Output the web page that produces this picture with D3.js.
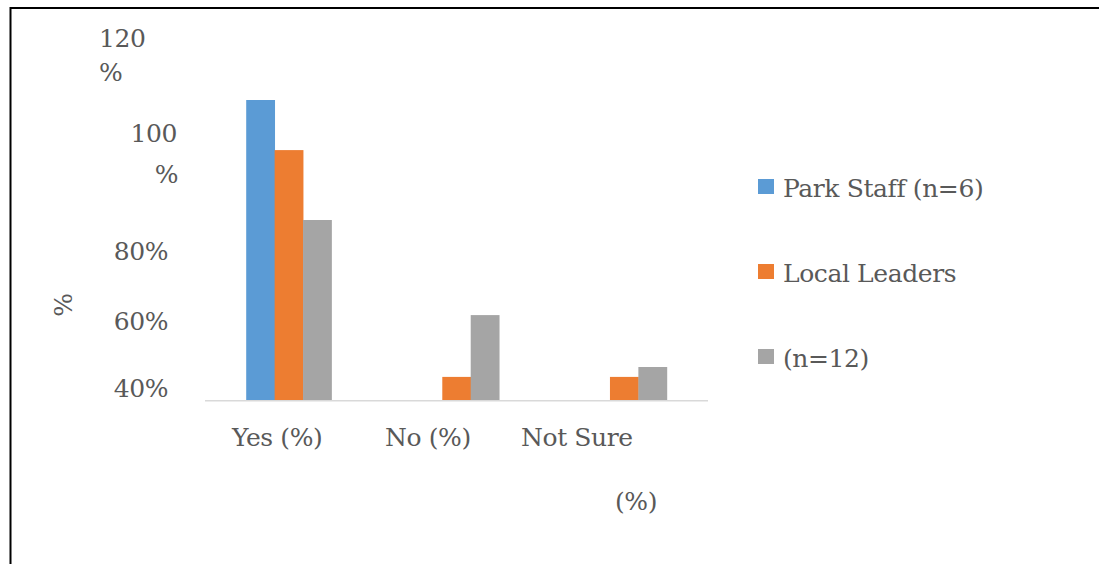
<!DOCTYPE html>
<html>
<head>
<meta charset="utf-8">
<script src="https://cdn.jsdelivr.net/npm/d3@7"></script>
<style>
  html, body { margin: 0; padding: 0; background: #ffffff; }
  svg { display: block; }
  text { font-family: "DejaVu Serif", "Liberation Serif", serif; fill: #595959; letter-spacing: -0.4px; }
</style>
</head>
<body>
<svg id="chart" width="1099" height="564"></svg>
<script>
// Survey responses by group
const categories = ["Yes (%)", "No (%)", "Not Sure"];
const seriesNames = ["Park Staff (n=6)", "Local Leaders", "(n=12)"];
const parkStaff = [100, 0, 0];
const localLeaders = [83.3, 7.7, 7.7];
const groupN12 = [60, 28.3, 11];
const yTickLabels = ["120 %", "100 %", "80%", "60%", "40%"];
const seriesColors = ["#5B9BD5", "#ED7D31", "#A5A5A5"];

const seriesValues = [parkStaff, localLeaders, groupN12];

const svg = d3.select("#chart");
const W = 1099, H = 564;
const fontSize = 25;

// Frame: top and left rules
svg.append("line").attr("x1", 10).attr("x2", W).attr("y1", 8).attr("y2", 8)
  .attr("stroke", "#000").attr("stroke-width", 2);
svg.append("line").attr("x1", 10.5).attr("x2", 10.5).attr("y1", 7).attr("y2", H)
  .attr("stroke", "#000").attr("stroke-width", 2);

// Scales
const plot = { left: 205, right: 708, top: 40, bottom: 400 };
const x0 = d3.scaleBand().domain(categories).range([plot.left, plot.right]).padding(0);
const x1 = d3.scaleBand().domain(seriesNames).range([0, x0.bandwidth()])
  .paddingInner(0).paddingOuter(1.45);
const y = d3.scaleLinear().domain([0, 120]).range([plot.bottom, plot.top]);

// Bars
const rows = categories.map((c, i) => ({
  cat: c,
  vals: seriesNames.map((s, j) => ({ s, v: seriesValues[j][i], color: seriesColors[j] }))
}));

const g = svg.append("g");
g.selectAll("g.cat").data(rows).join("g")
  .attr("class", "cat")
  .attr("transform", d => `translate(${x0(d.cat)},0)`)
  .selectAll("rect").data(d => d.vals.filter(e => e.v > 0)).join("rect")
  .attr("x", d => x1(d.s))
  .attr("width", x1.bandwidth() + 0.4)
  .attr("y", d => y(d.v))
  .attr("height", d => y(0) - y(d.v))
  .attr("fill", d => d.color);

// Category axis line
svg.append("line")
  .attr("x1", plot.left).attr("x2", plot.right)
  .attr("y1", y(0) + 0.75).attr("y2", y(0) + 0.75)
  .attr("stroke", "#d9d9d9").attr("stroke-width", 1.5);

// Value-axis labels, wrapped where the label column is narrow
const yLabelLayout = [
  { lines: [{ dx: 99, dy: 47, anchor: "start" }, { dx: 99, dy: 81, anchor: "start" }] },
  { lines: [{ dx: 177, dy: 142, anchor: "end" }, { dx: 178, dy: 183, anchor: "end" }] },
  { lines: [{ dx: 168, dy: 260, anchor: "end" }] },
  { lines: [{ dx: 168, dy: 330, anchor: "end" }] },
  { lines: [{ dx: 168, dy: 397, anchor: "end" }] }
];
yTickLabels.forEach((lab, i) => {
  const parts = lab.split(" ");
  yLabelLayout[i].lines.forEach((p, k) => {
    svg.append("text")
      .attr("x", p.dx).attr("y", p.dy)
      .attr("text-anchor", p.anchor)
      .attr("font-size", fontSize)
      .text(parts.length > 1 ? parts[k] : lab);
  });
});

// Value-axis title
svg.append("text")
  .attr("transform", "translate(72,305) rotate(-90)")
  .attr("text-anchor", "middle")
  .attr("font-size", fontSize)
  .text("%");

// Category labels
const catLabelLayout = [
  { dx: 232 - x0(categories[0]), dy: 446 },
  { dx: 385 - x0(categories[1]), dy: 446 },
  { dx: 521 - x0(categories[2]), dy: 446 }
];
categories.forEach((c, i) => {
  svg.append("text")
    .attr("x", x0(c) + catLabelLayout[i].dx)
    .attr("y", catLabelLayout[i].dy)
    .attr("font-size", fontSize)
    .text(c);
});
// Wrapped unit for the last category
svg.append("text")
  .attr("x", 615).attr("y", 510)
  .attr("font-size", fontSize)
  .text("(%)");

// Legend
const legend = svg.append("g").attr("transform", "translate(758,179)");
seriesNames.forEach((s, i) => {
  const row = legend.append("g").attr("transform", `translate(0,${i * 85})`);
  row.append("rect").attr("width", 16).attr("height", 15).attr("fill", seriesColors[i]);
  row.append("text").attr("x", 25).attr("y", 18)
    .attr("font-size", fontSize).text(s);
});
</script>
</body>
</html>
